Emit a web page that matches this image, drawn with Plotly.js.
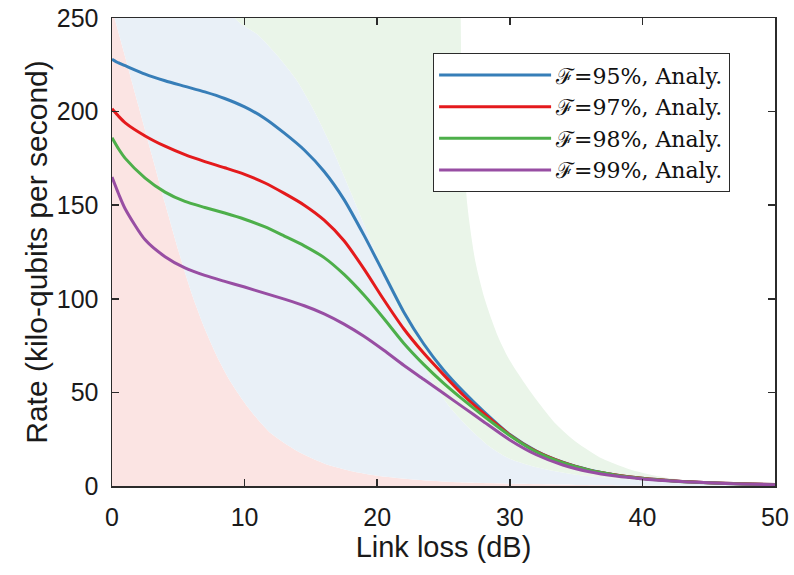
<!DOCTYPE html>
<html>
<head>
<meta charset="utf-8">
<script src="https://cdn.plot.ly/plotly-3.0.1.min.js"></script>
<style>
  html, body { margin: 0; padding: 0; background: #ffffff; }
  #chart { width: 794px; height: 575px; }
</style>
</head>
<body>
<div id="chart"></div>
<script>
// ---- Data ----
const linkLoss = [0, 0.5, 1, 2.5, 4, 5.5, 7, 8.5, 10, 11.5, 13, 14.5, 16, 17.5, 19, 20.5, 22, 23.5, 25, 26.5, 28, 30, 32, 34, 36, 38, 40, 42.5, 45, 47.5, 50];

const rateF95 = [228, 226, 224.5, 220, 216.5, 213.5, 210.5, 207, 202.5, 196.5, 188.5, 179.5, 168, 153, 134, 113.5, 93, 76, 62, 50.4, 40, 27.5, 18.7, 12.7, 8.6, 5.9, 4.1, 2.7, 1.8, 1.2, 0.8];
const rateF97 = [201.5, 197.5, 194, 187, 181.5, 177, 173.3, 170, 166.5, 162, 156.3, 150, 142, 131, 116, 99.5, 84, 71, 59.5, 48.5, 39, 27.3, 18.5, 12.6, 8.5, 5.9, 4.1, 2.7, 1.8, 1.2, 0.8];
const rateF98 = [186, 180, 175, 164.5, 157, 152, 148.8, 145.8, 142.5, 138.5, 133.5, 128.3, 122, 113, 102, 89.5, 76.3, 65, 55, 46, 37.5, 27, 18.2, 12.4, 8.4, 5.8, 4, 2.6, 1.7, 1.1, 0.7];
const rateF99 = [165, 156, 148, 131.5, 122.5, 116.5, 112.5, 109.3, 106.3, 103, 99.8, 96.3, 92, 86.5, 80, 72.5, 64.5, 57, 49.5, 42, 34.5, 24.6, 16.7, 11.2, 7.6, 5.3, 3.8, 2.5, 1.7, 1.1, 0.7];

const seriesNames = ["ℱ=95%, Analy.", "ℱ=97%, Analy.", "ℱ=98%, Analy.", "ℱ=99%, Analy."];

// shaded region boundaries
const redBoundX = [0, 1, 2, 3, 4, 5, 6, 7, 8, 9, 10, 11, 12, 14, 16, 18, 20, 23, 26, 30, 35, 40, 50];
const redBoundY = [255, 229, 203, 177, 151, 126, 103, 84, 68, 55, 44.5, 35.5, 28, 18.5, 12, 8, 5.5, 3.3, 2, 1.2, 0.6, 0.3, 0.1];

const blueBoundX = [8.9, 9.3, 11, 12.7, 14, 15.2, 16.5, 18, 19.5, 21, 22.5, 24, 25.5, 27, 28.5, 30, 32, 35, 40, 45, 50];
const blueBoundY = [300, 250, 241, 228, 216, 201, 182, 157, 131, 105, 80, 58, 42, 30.5, 21, 14.5, 10, 6, 3, 1.5, 0.8];

const greenBoundX = [26.2, 26.3, 26.4, 26.8, 27.4, 28.1, 29.1, 30, 31.6, 33.5, 35, 37, 39, 41, 43, 46, 50];
const greenBoundY = [300, 250, 200, 150, 120, 100, 80, 67, 50, 33, 23.5, 14.5, 9, 5.5, 3.3, 1.7, 0.9];

const xTicks = [0, 10, 20, 30, 40, 50];
const yTicks = [0, 50, 100, 150, 200, 250];

// ---- Styles ----
const lineColors = ["#377eb8", "#e41a1c", "#4daf4a", "#984ea3"];
const fillColors = ["#fbe4e3", "#e9f0f7", "#eaf5e9"];

const fillTraces = [
  {x: redBoundX, y: redBoundY, fill: "tozeroy", fillcolor: fillColors[0]},
  {x: blueBoundX, y: blueBoundY, fill: "tonexty", fillcolor: fillColors[1]},
  {x: greenBoundX, y: greenBoundY, fill: "tonexty", fillcolor: fillColors[2]}
].map(t => Object.assign(t, {
  type: "scatter", mode: "lines", line: {width: 0, shape: "spline", smoothing: 0.7},
  showlegend: false, hoverinfo: "skip"
}));

const rateSeries = [rateF95, rateF97, rateF98, rateF99];
const lineTraces = rateSeries.map((ys, i) => ({
  type: "scatter", mode: "lines",
  x: linkLoss, y: ys, name: seriesNames[i],
  line: {color: lineColors[i], width: 3, shape: "spline", smoothing: 0.7}
}));

const sansFont = "Liberation Sans, Arial, sans-serif";
const axisCommon = {
  showgrid: false, zeroline: false, showline: true, mirror: "ticks",
  linecolor: "#2b2b2b", linewidth: 1.5,
  ticks: "inside", ticklen: 7, tickwidth: 1.5, tickcolor: "#2b2b2b",
  tickfont: {family: sansFont, size: 25, color: "#1a1a1a"}
};

const layout = {
  width: 794, height: 575,
  margin: {l: 112, r: 19, t: 18, b: 89},
  paper_bgcolor: "#ffffff", plot_bgcolor: "#ffffff",
  showlegend: true,
  xaxis: Object.assign({}, axisCommon, {
    range: [0, 50], tickvals: xTicks, ticktext: xTicks.map(String),
    ticklabelstandoff: 8,
    title: {text: "Link loss (dB)", font: {family: sansFont, size: 29, color: "#1a1a1a"}, standoff: 7}
  }),
  yaxis: Object.assign({}, axisCommon, {
    range: [0, 250], tickvals: yTicks, ticktext: yTicks.map(String),
    ticklabelstandoff: 7,
    title: {text: "Rate (kilo-qubits per second)", font: {family: sansFont, size: 30, color: "#1a1a1a"}, standoff: 0}
  }),
  legend: {
    x: 0.484, y: 0.925, xanchor: "left", yanchor: "top",
    traceorder: "normal",
    bgcolor: "#ffffff", bordercolor: "#2b2b2b", borderwidth: 1.2,
    itemwidth: 112,
    font: {family: "DejaVu Serif, Liberation Serif, serif", size: 22, color: "#111111"}
  }
};

Plotly.newPlot("chart", fillTraces.concat(lineTraces), layout, {staticPlot: true, displayModeBar: false});
</script>
</body>
</html>
